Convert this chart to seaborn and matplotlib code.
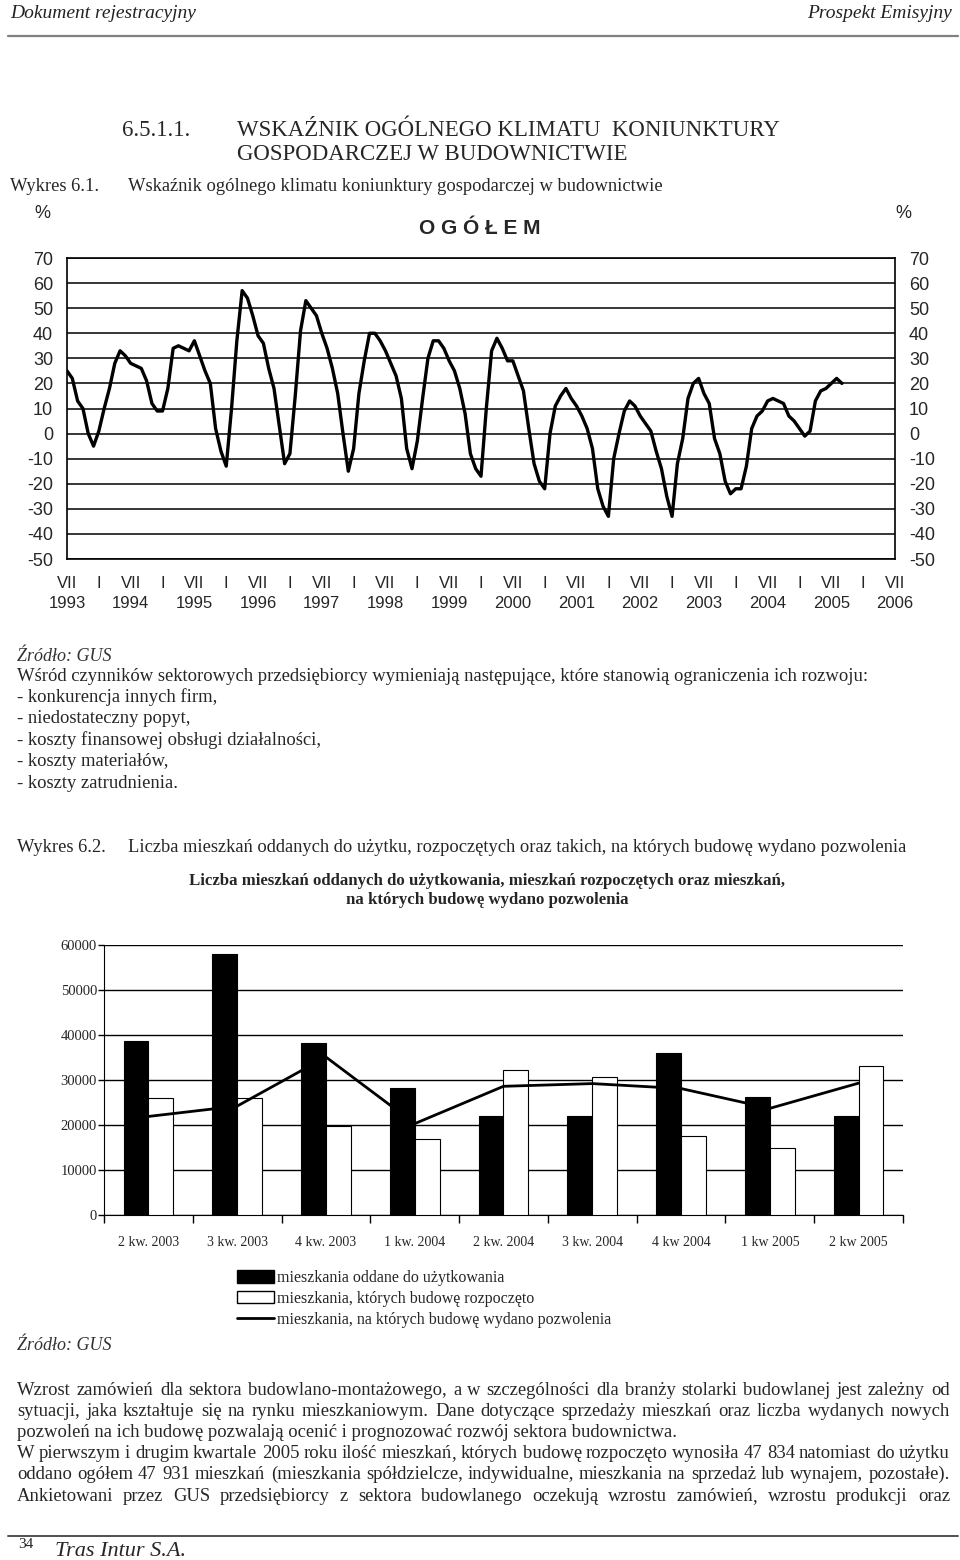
import matplotlib
matplotlib.use("Agg")
import matplotlib.pyplot as plt
from matplotlib.lines import Line2D
from matplotlib.patches import Patch
import numpy as np
import pandas as pd
import seaborn as sns

# ---------------- data: chart 6.1 (monthly index, %) ----------------
k1993 = [25, 22, 13, 10, 0, -5]                                   # VII-XII
k1994 = [1, 10, 18, 28, 33, 31, 28, 27, 26, 21, 12, 9]
k1995 = [9, 18, 34, 35, 34, 33, 37, 31, 25, 20, 2, -7]
k1996 = [-13, 10, 37, 57, 54, 47, 39, 36, 26, 18, 3, -12]
k1997 = [-8, 15, 41, 53, 50, 47, 40, 34, 26, 16, 0, -15]
k1998 = [-6, 16, 29, 40, 40, 37, 33, 28, 23, 14, -6, -14]
k1999 = [-3, 14, 30, 37, 37, 34, 29, 25, 18, 8, -8, -14]
k2000 = [-17, 10, 33, 38, 34, 29, 29, 23, 17, 2, -12, -19]
k2001 = [-22, 0, 11, 15, 18, 14, 11, 7, 2, -6, -22, -29]
k2002 = [-33, -10, 0, 9, 13, 11, 7, 4, 1, -7, -14, -25]
k2003 = [-33, -12, -2, 14, 20, 22, 16, 12, -2, -8, -19, -24]
k2004 = [-22, -22, -13, 2, 7, 9, 13, 14, 13, 12, 7, 5]
k2005 = [2, -1, 1, 13, 17, 18, 20, 22, 20]                         # I-IX
lata = list(range(1993, 2007))
miesiace_rzym = ["VII", "I"]
y_ticks_1 = list(range(-50, 71, 10))

# ---------------- data: chart 6.2 ----------------
kwartaly = ["2 kw. 2003", "3 kw. 2003", "4 kw. 2003", "1 kw. 2004", "2 kw. 2004",
            "3 kw. 2004", "4 kw 2004", "1 kw 2005", "2 kw 2005"]
oddane = [38600, 58000, 38300, 28200, 22000, 22000, 36100, 26200, 22000]
rozpoczete = [26000, 26000, 19800, 17000, 32200, 30700, 17500, 14800, 33100]
pozwolenia = [21900, 24200, 35100, 20300, 28600, 29200, 28100, 23700, 29300]
seria = ["mieszkania oddane do użytkowania",
         "mieszkania, których budowę rozpoczęto",
         "mieszkania, na których budowę wydano pozwolenia"]
y_ticks_2 = list(range(0, 60001, 10000))

# ---------------- setup ----------------
sns.set_style("white")
SERIF = ["Liberation Serif", "DejaVu Serif"]
SANS = ["Liberation Sans", "DejaVu Sans"]
plt.rcParams["font.family"] = SERIF

W, H = 960, 1560
fig = plt.figure(figsize=(W / 100, H / 100), dpi=100)


def P(x, y):
    return x / W, 1 - y / H


def T(x, y, s, **kw):
    kw.setdefault("va", "center")
    kw.setdefault("family", SERIF)
    return fig.text(*P(x, y), s, **kw)


def B(x, y, s, **kw):
    """text placed on a baseline (y = visual centre of the line)"""
    return T(x, y + 5, s, va="baseline", **kw)


renderer = fig.canvas.get_renderer()
PUNCT = ",.:;)"


def justify(y, line, x0=17, x1=950, **kw):
    words = line.split()
    groups = []
    for w in words:
        core = w.rstrip(PUNCT)
        tail = w[len(core):]
        if tail and core and not core[-1].isascii():
            parts = [core, tail]
        else:
            parts = [w]
        txts = [B(0, y, p, ha="left", **kw) for p in parts]
        wid = [t.get_window_extent(renderer).width for t in txts]
        groups.append((txts, wid))
    total = sum(sum(g[1]) for g in groups)
    gap = (x1 - x0 - total) / (len(groups) - 1)
    x = x0
    for txts, wid in groups:
        xx = x
        for t, w in zip(txts, wid):
            t.set_position(P(round(xx), y + 5))
            xx += w - 1
        x += sum(wid) + gap


# header / footer
T(10, 13, "Dokument rejestracyjny", style="italic", size=14, color="#222222")
T(952, 13, "Prospekt Emisyjny", style="italic", size=14, color="#222222", ha="right")
fig.add_artist(Line2D([8 / W, 958 / W], [1 - 36 / H] * 2, color="#808080", lw=1.6))
fig.add_artist(Line2D([8 / W, 958 / W], [1 - 1536 / H] * 2, color="#505050", lw=1.4))
T(18, 1545, "34", size=11)
T(55, 1551, "Tras Intur S.A.", style="italic", size=16)

# headings
T(122, 130, "6.5.1.1.", size=16.5)
T(237, 130, "WSKAŹNIK OGÓLNEGO KLIMATU  KONIUNKTURY", size=16.5)
T(237, 155, "GOSPODARCZEJ W BUDOWNICTWIE", size=16.5)
B(10, 186, "Wykres 6.1.", size=13.3)
B(128, 186, "Wskaźnik ogólnego klimatu koniunktury gospodarczej w budownictwie", size=13.3)

# ---------------- chart 6.1 ----------------
ax1 = fig.add_axes([67 / W, 1 - 559 / H, (895 - 67) / W, (559 - 258) / H])
klimat = k1993 + k1994 + k1995 + k1996 + k1997 + k1998 + k1999 + k2000 + \
    k2001 + k2002 + k2003 + k2004 + k2005
df1 = pd.DataFrame({"m": np.arange(len(klimat)), "v": klimat})
sns.lineplot(data=df1, x="m", y="v", color="black", lw=2.4, ax=ax1)
ax1.set_xlim(0, 156)
ax1.set_ylim(-50, 70)
ax1.set_yticks(y_ticks_1)
ax1.set_yticklabels([str(v) for v in y_ticks_1], family=SANS, size=13)
xt = list(range(0, 157, 6))
labs = []
for i in range(len(xt)):
    labs.append(miesiace_rzym[0] + "\n" + str(lata[i // 2]) if i % 2 == 0 else miesiace_rzym[1])
ax1.set_xticks(xt)
ax1.set_xticklabels(labs, family=SANS, size=12, linespacing=1.45)
ax1.tick_params(axis="both", length=0)
ax1.tick_params(axis="y", labelright=True, pad=10)
ax1.tick_params(axis="x", pad=12)
ax1.grid(axis="y", color="black", lw=1.1)
ax1.grid(axis="x", visible=False)
for s in ax1.spines.values():
    s.set_color("black")
    s.set_linewidth(1.2)
ax1.set_xlabel("")
ax1.set_ylabel("")
T(42, 214, "%", family=SANS, size=13, ha="center")
T(903, 214, "%", family=SANS, size=13, ha="center")
T(480, 229, "O G Ó Ł E M", family=SANS, size=15, weight="bold", ha="center")

# text between charts
T(17, 656, "Źródło: GUS", style="italic", size=13, color="#333333")
body = ["Wśród czynników sektorowych przedsiębiorcy wymieniają następujące, które stanowią ograniczenia ich rozwoju:",
        "- konkurencja innych firm,",
        "- niedostateczny popyt,",
        "- koszty finansowej obsługi działalności,",
        "- koszty materiałów,",
        "- koszty zatrudnienia."]
for yy, s in zip([676, 697, 718, 740, 761, 783], body):
    B(17, yy, s, size=13.4)
B(17, 847, "Wykres 6.2.", size=13.3)
B(128, 847, "Liczba mieszkań oddanych do użytku, rozpoczętych oraz takich, na których budowę wydano pozwolenia", size=13.3)

# ---------------- chart 6.2 ----------------
B(487, 880, "Liczba mieszkań oddanych do użytkowania, mieszkań rozpoczętych oraz mieszkań,",
  size=12.1, weight="bold", ha="center")
B(487, 899, "na których budowę wydano pozwolenia", size=12.1, weight="bold", ha="center")

ax2 = fig.add_axes([104 / W, 1 - 1215 / H, (903 - 104) / W, (1215 - 945) / H])
df2 = pd.DataFrame({
    "kw": kwartaly * 2,
    "val": oddane + rozpoczete,
    "seria": [seria[0]] * len(kwartaly) + [seria[1]] * len(kwartaly),
})
sns.barplot(data=df2, x="kw", y="val", hue="seria", hue_order=seria[:2],
            palette=["black", "white"], edgecolor="black", linewidth=0.8,
            width=0.56, gap=0, legend=False, ax=ax2, zorder=3)
df3 = pd.DataFrame({"pos": np.arange(len(kwartaly)), "val": pozwolenia})
sns.lineplot(data=df3, x="pos", y="val", color="black", lw=2.0, ax=ax2, zorder=4)
ax2.set_axisbelow(True)
ax2.set_xlim(-0.5, len(kwartaly) - 0.5)
ax2.set_ylim(0, 60000)
ax2.set_yticks(y_ticks_2)
ax2.set_yticklabels([str(v) for v in y_ticks_2], size=10.5)
ax2.set_xticks(np.arange(len(kwartaly) + 1) - 0.5)
ax2.set_xticklabels([])
ax2.set_xticks(np.arange(len(kwartaly)), minor=True)
ax2.set_xticklabels(kwartaly, minor=True, size=10)
ax2.tick_params(axis="x", which="major", direction="out", length=6, width=1, color="black", bottom=True)
ax2.tick_params(axis="x", which="minor", length=0, pad=15)
ax2.tick_params(axis="y", direction="out", length=4, width=1, color="black", left=True, pad=1)
ax2.grid(axis="y", color="black", lw=1.0)
ax2.grid(axis="x", visible=False)
ax2.spines["top"].set_visible(False)
ax2.spines["right"].set_visible(False)
ax2.spines["left"].set_color("black")
ax2.spines["bottom"].set_color("black")
ax2.set_xlabel("")
ax2.set_ylabel("")

handles = [Patch(fc="black", ec="black"), Patch(fc="white", ec="black", lw=1),
           Line2D([], [], color="black", lw=2)]
fig.legend(handles, seria, loc="upper left", bbox_to_anchor=P(237, 1270),
           frameon=False, prop={"family": SERIF, "size": 11.5}, handlelength=2.3,
           handleheight=0.8, labelspacing=0.3, handletextpad=0.2,
           borderpad=0, borderaxespad=0)

T(17, 1346, "Źródło: GUS", style="italic", size=13, color="#333333")

# closing paragraph
lines = [
    ("Wzrost zamówień dla sektora budowlano-montażowego, a w szczególności dla branży stolarki budowlanej jest zależny od", True),
    ("sytuacji, jaka kształtuje się na rynku mieszkaniowym. Dane dotyczące sprzedaży mieszkań oraz liczba wydanych nowych", True),
    ("pozwoleń na ich budowę pozwalają ocenić i prognozować rozwój sektora budownictwa.", False),
    ("W pierwszym i drugim kwartale 2005 roku ilość mieszkań, których budowę rozpoczęto wynosiła 47 834 natomiast do użytku", True),
    ("oddano ogółem 47 931 mieszkań (mieszkania spółdzielcze, indywidualne, mieszkania na sprzedaż lub wynajem, pozostałe).", True),
    ("Ankietowani przez GUS przedsiębiorcy z sektora budowlanego oczekują wzrostu zamówień, wzrostu produkcji oraz", True),
]
for yy, (s, just) in zip([1390, 1411, 1432, 1453, 1474, 1496], lines):
    if just:
        justify(yy, s, size=13.4)
    else:
        B(17, yy, s, size=13.4)

fig.savefig("out.png", dpi=100)
